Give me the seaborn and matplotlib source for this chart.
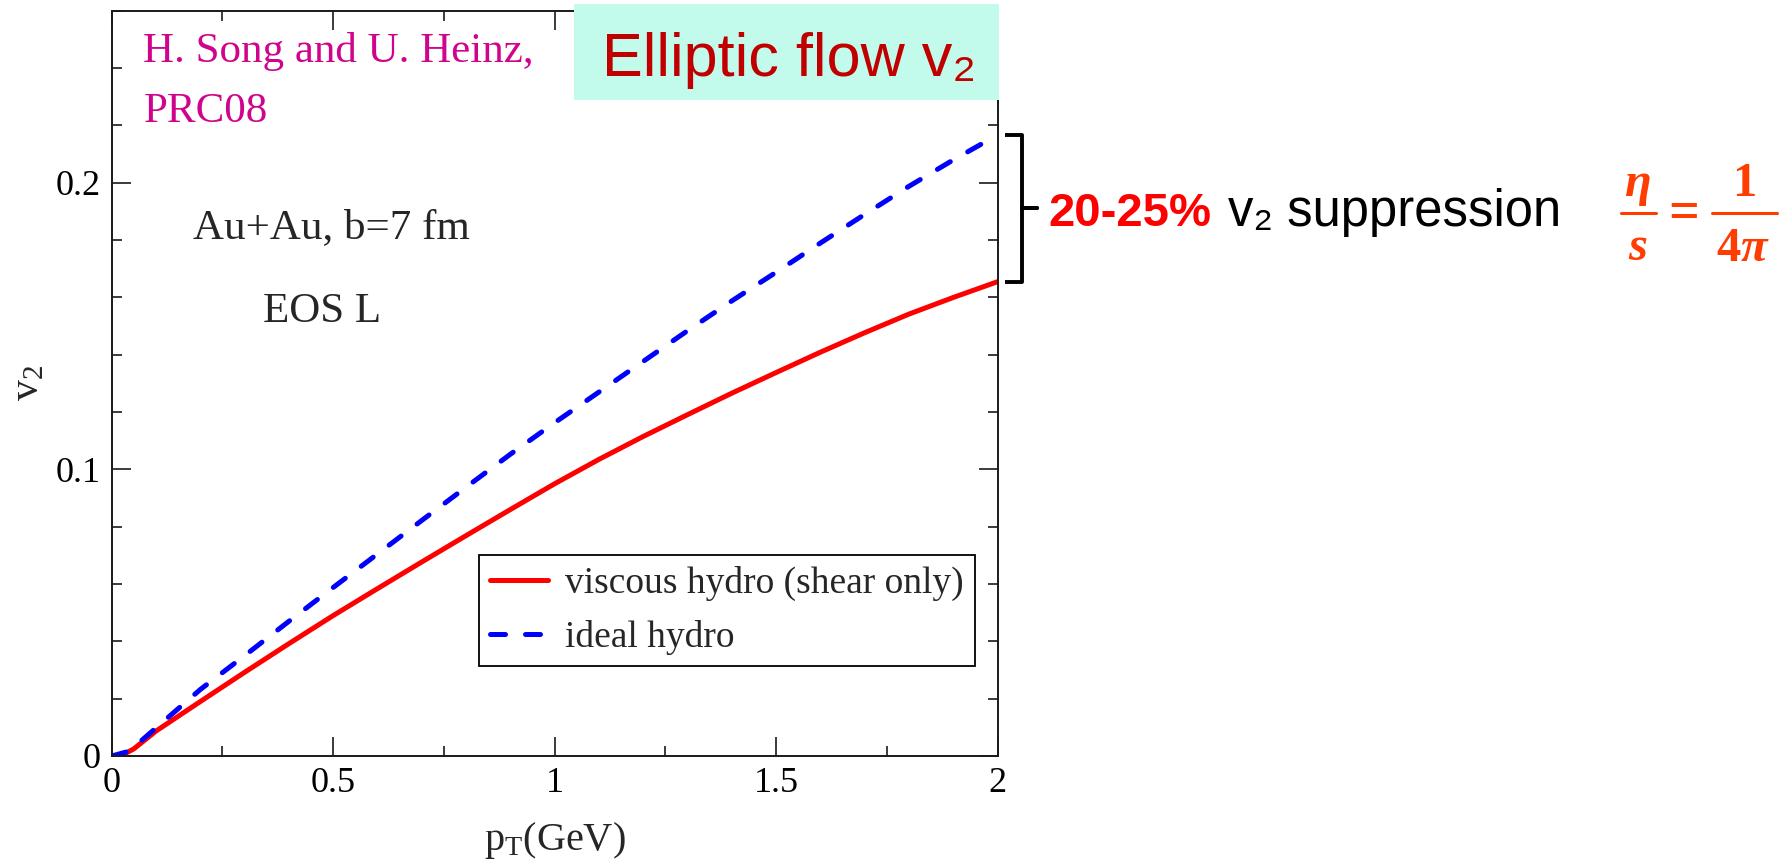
import matplotlib
matplotlib.use("Agg")
import matplotlib.pyplot as plt
import numpy as np
import pandas as pd
import seaborn as sns
from matplotlib.patches import Rectangle
from matplotlib.lines import Line2D
from matplotlib.ticker import AutoMinorLocator
from matplotlib.transforms import blended_transform_factory

# v2(pT) from viscous (eta/s = 1/4pi, shear only) and ideal hydro, Au+Au b=7 fm, EOS L
pt_viscous = [0.02, 0.05, 0.10, 0.20, 0.30, 0.40, 0.50, 0.60, 0.70, 0.80, 0.90, 1.00,
              1.10, 1.20, 1.30, 1.40, 1.50, 1.60, 1.70, 1.80, 1.90, 2.00]
v2_viscous = [0.0, 0.0025, 0.0087, 0.0190, 0.0292, 0.0392, 0.0490, 0.0584, 0.0677,
              0.0769, 0.0860, 0.0950, 0.1035, 0.1115, 0.1191, 0.1266, 0.1338, 0.1409,
              0.1477, 0.1542, 0.1600, 0.1655]

pt_ideal = [0.0, 0.04, 0.10, 0.20, 0.30, 0.40, 0.50, 0.60, 0.70, 0.80, 0.90, 1.00, 1.10,
            1.20, 1.30, 1.40, 1.50, 1.60, 1.70, 1.80, 1.90, 2.00]
v2_ideal = [0.0, 0.0017, 0.0098, 0.0232, 0.0350, 0.0470, 0.0588, 0.0705, 0.0822, 0.0938,
            0.1053, 0.1163, 0.1270, 0.1377, 0.1484, 0.1588, 0.1688, 0.1790, 0.1890,
            0.1988, 0.2080, 0.2167]

series_names = ["viscous hydro (shear only)", "ideal hydro"]
series_colors = ["#ff0000", "#0000ff"]

x_ticks = [0, 0.5, 1, 1.5, 2]
x_tick_labels = ["0", "0.5", "1", "1.5", "2"]
y_ticks = [0, 0.1, 0.2]
y_tick_labels = ["0", "0.1", "0.2"]

W, H = 1790, 866

sns.set_style("ticks")
plt.rcParams.update({
    "font.family": ["Liberation Serif", "DejaVu Serif"],
    "mathtext.fontset": "custom",
    "mathtext.rm": "Liberation Serif",
    "mathtext.it": "Liberation Serif:italic",
    "mathtext.bf": "Liberation Serif:bold",
    "axes.edgecolor": "#1a1a1a",
    "axes.linewidth": 1.4,
    "xtick.color": "#1a1a1a",
    "ytick.color": "#1a1a1a",
    "xtick.labelcolor": "black",
    "ytick.labelcolor": "black",
})

SANS = ["Liberation Sans", "DejaVu Sans"]


def fx(px):
    return px / W


def fy(py):
    return 1 - py / H


df = pd.concat([
    pd.DataFrame({"pt": pt_viscous, "v2": v2_viscous, "model": series_names[0]}),
    pd.DataFrame({"pt": pt_ideal, "v2": v2_ideal, "model": series_names[1]}),
], ignore_index=True)

fig = plt.figure(figsize=(W / 100, H / 100), dpi=100)
ax = fig.add_axes([fx(111.7), fy(756), (997.7 - 111.7) / W, (756 - 10.8) / H])

sns.lineplot(
    data=df, x="pt", y="v2", hue="model", style="model",
    hue_order=series_names, style_order=series_names,
    palette=dict(zip(series_names, series_colors)),
    dashes={series_names[0]: "", series_names[1]: (3, 4)},
    estimator=None, sort=False, linewidth=3.6,
    dash_capstyle="round", ax=ax,
)

ax.set_xlim(0, 2)
ax.set_ylim(0, 0.26)
ax.set_xticks(x_ticks, x_tick_labels)
ax.set_yticks(y_ticks, y_tick_labels)
ax.xaxis.set_minor_locator(AutoMinorLocator(2))
ax.yaxis.set_minor_locator(AutoMinorLocator(5))
ax.tick_params(which="both", direction="in", top=True, right=True, width=1.2)
ax.tick_params(which="major", length=14, labelsize=26, pad=8)
ax.tick_params(which="minor", length=7.5)

ax.set_xlabel(r"p$_\mathrm{T}$(GeV)", fontsize=29, labelpad=14)
ax.set_ylabel(r"v$_\mathrm{2}$", fontsize=30, labelpad=6)

handles, labels = ax.get_legend_handles_labels()
leg = ax.legend(handles, labels, loc="lower left", bbox_to_anchor=(0.4146, 0.1208),
                frameon=True, fancybox=False, edgecolor="black", framealpha=1,
                fontsize=27, handlelength=1.55, handletextpad=0.45,
                borderpad=0.3, labelspacing=0.5, borderaxespad=0)
leg.get_frame().set_linewidth(1.3)

# in-plot annotations
fig.text(fx(192.7), fy(238), "Au+Au, b=7 fm", fontsize=31, va="baseline")
fig.text(fx(263.3), fy(321.7), "EOS L", fontsize=31, va="baseline")
fig.text(fx(143.5), fy(62.4), "H. Song and U. Heinz,", fontsize=31,
         color="#d0048c", va="baseline")
fig.text(fx(143.5), fy(121.7), "PRC08", fontsize=31, color="#d0048c", va="baseline")

# title banner over the top of the frame
fig.add_artist(Rectangle((fx(574), fy(100)), 425 / W, 96 / H, transform=fig.transFigure,
                         facecolor="#c2fbec", edgecolor="none", zorder=5))
fig.text(fx(601.7), fy(76), "Elliptic flow v\u2082", fontsize=44, color="#c00000",
         family=SANS, va="baseline", zorder=6)

# brace spanning the two curves at the largest pT
trans = blended_transform_factory(ax.transAxes, ax.transData)
top_v2, bot_v2 = v2_ideal[-1], v2_viscous[-1]
mid_v2 = 0.5 * (top_v2 + bot_v2)
bx0, bx1, bx2 = 1.0082, 1.0274, 1.0443
ax.plot([bx0, bx1, bx1, bx2, bx1, bx1, bx0],
        [top_v2, top_v2, mid_v2, mid_v2, mid_v2, bot_v2, bot_v2],
        transform=trans, clip_on=False, color="black", linewidth=2.8,
        solid_joinstyle="round", solid_capstyle="butt")

fig.text(fx(1048), fy(226), "20-25%", fontsize=34, fontweight="bold",
         color="#ff0000", family=SANS, va="baseline")
fig.text(fx(1228), fy(226), "v\u2082 suppression", fontsize=36.5, color="black",
         family=SANS, va="baseline")

# eta/s = 1/(4 pi)
fc = "#ff3d00"
FS = 35
fig.text(fx(1638), fy(196), "\u03b7", fontsize=FS, color=fc, fontweight="bold",
         style="italic", ha="center", va="baseline")
fig.text(fx(1638), fy(260), "s", fontsize=FS, color=fc, fontweight="bold",
         style="italic", ha="center", va="baseline")
fig.text(fx(1683.5), fy(228), "=", fontsize=FS + 4, color=fc, fontweight="bold",
         ha="center", va="baseline")
fig.text(fx(1744.5), fy(196), "1", fontsize=FS, color=fc, fontweight="bold",
         ha="center", va="baseline")
fig.text(fx(1741), fy(261), "4", fontsize=FS, color=fc, fontweight="bold",
         ha="right", va="baseline")
fig.text(fx(1741), fy(261), "\u03c0", fontsize=FS, color=fc, fontweight="bold",
         style="italic", ha="left", va="baseline")
for x0, x1 in [(1621, 1656), (1712, 1777)]:
    fig.add_artist(Line2D([fx(x0), fx(x1)], [fy(213.3), fy(213.3)],
                          transform=fig.transFigure, color=fc, linewidth=2.2))

fig.savefig("out.png", dpi=100)
